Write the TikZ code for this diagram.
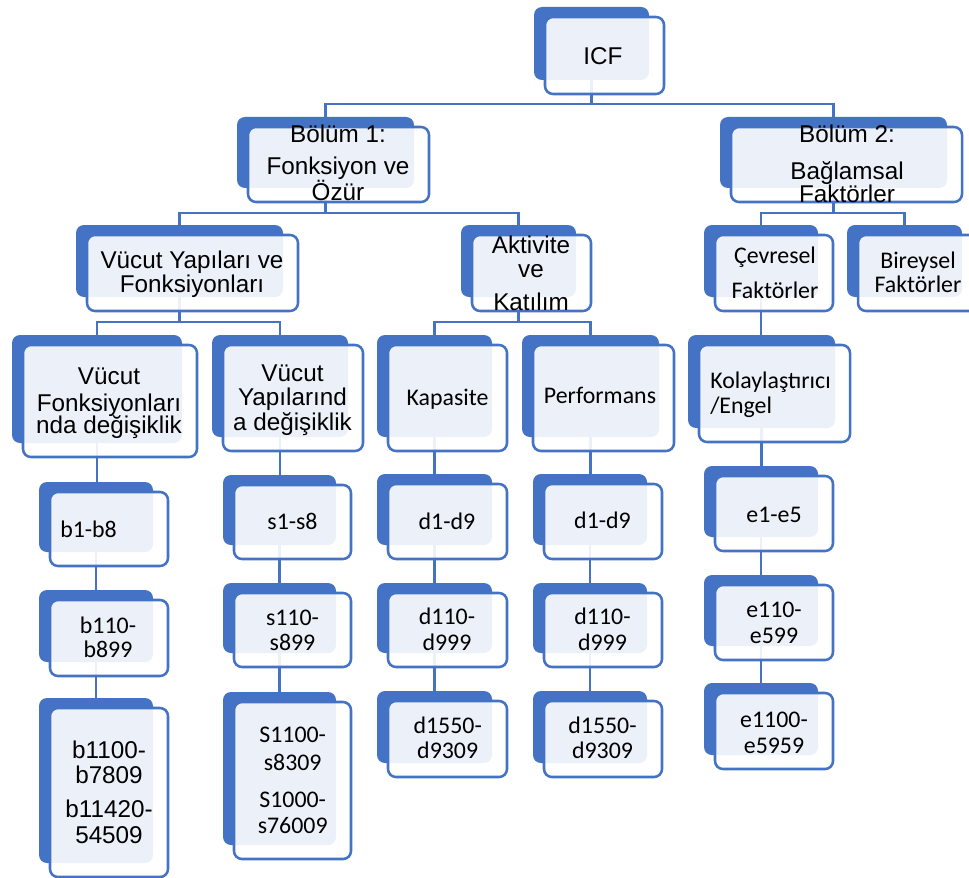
\documentclass[tikz,border=0pt]{standalone}
\usepackage{fontspec}
\newfontfamily\arialf{Liberation Sans}
\newfontfamily\calf{Carlito}
\definecolor{obl}{HTML}{4472C4}
\begin{document}
\begin{tikzpicture}[x=0.75pt,y=-0.75pt,
  backbox/.style={fill=obl, rounded corners=6pt, inner sep=0pt, outer sep=0pt, draw=none},
  frontbox/.style={fill=white, fill opacity=0.9, draw=obl, line width=1.9pt, rounded corners=6pt, inner sep=0pt, outer sep=0pt},
  conn/.style={draw=obl, line width=2pt},
  ta/.style={font=\arialf\fontsize{18.2}{21}\selectfont, anchor=base, inner sep=0pt},
  tc/.style={font=\calf\fontsize{17.9}{21}\selectfont, anchor=base, inner sep=0pt},
]
\useasboundingbox (0,0) rectangle (969,877);
\fill[white] (0,0) rectangle (969,877);
\clip (0,0) rectangle (969,877);
\def\boxlist{icf/534/7/649/80, bolA/237/117/414/188, bolB/720/117/947/188,
  vyf/76/225/283/297, akt/461/225/576/297, cev/704/225/818/297, bir/847/225/962/297,
  vfd/12/335/182/443, vyd/212/335/348/437, kap/377/335/492/437, perf/522/335/659/437, kol/688/335/835/428,
  bA/39/482/153/552, bB/39/590/153/662, bC/39/698/153/863,
  sA/223/475/336/545, sB/223/583/336/653, sC/223/692/336/845,
  dA/377/474/492/545, dB/377/583/492/653, dC/377/691/492/763,
  pA/533/474/647/545, pB/533/583/647/653, pC/533/691/647/763,
  eA/704/466/818/537, eB/704/575/818/646, eC/704/683/818/755}
% back boxes
\foreach \n/\a/\b/\c/\d in \boxlist {
  \node[backbox, minimum width={(\c-\a)*0.75pt}, minimum height={(\d-\b)*0.75pt}] (\n-b) at ({(\a+\c)/2},{(\b+\d)/2}) {};
}
% connectors
\coordinate (busA) at (0,104);
\coordinate (busB) at (0,213);
\coordinate (busC) at (0,322);
\draw[conn] (icf-b.south) -- (icf-b.south |- busA) -| (bolA-b.north);
\draw[conn] (icf-b.south |- busA) -| (bolB-b.north);
\draw[conn] (bolA-b.south) -- (bolA-b.south |- busB) -| (vyf-b.north);
\draw[conn] (bolA-b.south |- busB) -| (akt-b.north);
\draw[conn] (bolB-b.south) -- (bolB-b.south |- busB) -| (cev-b.north);
\draw[conn] (bolB-b.south |- busB) -| (bir-b.north);
\draw[conn] (vyf-b.south) -- (vyf-b.south |- busC) -| (vfd-b.north);
\draw[conn] (vyf-b.south |- busC) -| (vyd-b.north);
\draw[conn] (akt-b.south) -- (akt-b.south |- busC) -| (kap-b.north);
\draw[conn] (akt-b.south |- busC) -| (perf-b.north);
\draw[conn] (cev-b.south) -- (cev-b.south |- kol-b.north);
\draw[conn] (vfd-b.south) -- (vfd-b.south |- bA-b.north);
\draw[conn] (bA-b.south) -- (bA-b.south |- bB-b.north);
\draw[conn] (bB-b.south) -- (bB-b.south |- bC-b.north);
\draw[conn] (vyd-b.south) -- (vyd-b.south |- sA-b.north);
\draw[conn] (sA-b.south) -- (sA-b.south |- sB-b.north);
\draw[conn] (sB-b.south) -- (sB-b.south |- sC-b.north);
\draw[conn] (kap-b.south) -- (kap-b.south |- dA-b.north);
\draw[conn] (dA-b.south) -- (dA-b.south |- dB-b.north);
\draw[conn] (dB-b.south) -- (dB-b.south |- dC-b.north);
\draw[conn] (perf-b.south) -- (perf-b.south |- pA-b.north);
\draw[conn] (pA-b.south) -- (pA-b.south |- pB-b.north);
\draw[conn] (pB-b.south) -- (pB-b.south |- pC-b.north);
\draw[conn] (kol-b.south) -- (kol-b.south |- eA-b.north);
\draw[conn] (eA-b.south) -- (eA-b.south |- eB-b.north);
\draw[conn] (eB-b.south) -- (eB-b.south |- eC-b.north);
% front boxes
\foreach \n/\a/\b/\c/\d in \boxlist {
  \node[frontbox, minimum width={(\c-\a+4)*0.75pt}, minimum height={(\d-\b+4)*0.75pt}] (\n) at ({(\a+\c)/2+13},{(\b+\d)/2+12}) {};
}
% texts (Arial-like)
\foreach \x/\y/\t [count=\i] in {603/65/ICF,
  338/143/Bölüm 1:, 338/175/Fonksiyon ve, 338/200/Özür,
  847/143/Bölüm 2:, 847/180/Bağlamsal, 847/202/Faktörler,
  192/268/Vücut Yapıları ve, 192/292/Fonksiyonları,
  531/253/Aktivite, 531/277/ve, 531/310/Katılım,
  109/384/Vücut, 109/411/Fonksiyonları, 109/433/nda değişiklik,
  292.5/381/Vücut, 292.5/405/Yapılarınd, 292.5/430/a değişiklik,
  109/758/b1100-, 109/783/b7809, 109/817/b11420-, 109/843/54509} {
  \node[ta] (ta\i) at (\x,\y) {\t};
}
% texts (Calibri-like)
\foreach \x/\y/\t [count=\i] in {775/263/Çevresel, 775/298/Faktörler,
  918/268/Bireysel, 918/292/Faktörler,
  447.5/405/Kapasite, 600/403/Performans,
  108/633/b110-, 108/657/b899,
  292.5/529/s1-s8, 292.5/625/s110-, 292.5/650/s899,
  292.7/742/S1100-, 292.7/770/s8309, 292.7/807/S1000-, 292.7/833/s76009,
  447/529/d1-d9, 447/624/d110-, 447/650/d999, 447.7/733/d1550-, 447.7/758/d9309,
  602.5/528/d1-d9, 602.5/624/d110-, 602.5/650/d999, 602.5/733/d1550-, 602.5/758/d9309,
  774/522/e1-e5, 774/617/e110-, 774/643/e599, 774/727/e1100-, 774/753/e5959} {
  \node[tc] (tc\i) at (\x,\y) {\t};
}
\node[tc, anchor=base west] (kolt1) at (710,388) {Kolaylaştırıcı};
\node[tc, anchor=base west] (kolt2) at (710,413) {/Engel};
\node[tc, anchor=base west] (bAt) at (60,537) {b1-b8};
\end{tikzpicture}
\end{document}
